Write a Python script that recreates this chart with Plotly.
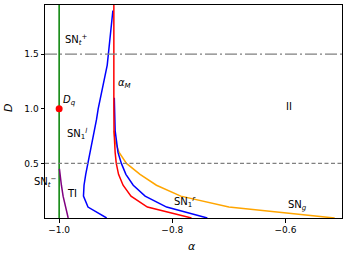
import plotly.graph_objects as go

# ---- data ----
D_steps = [0.0, 0.1, 0.2, 0.3, 0.4, 0.5, 0.6, 0.7, 0.8, 0.9, 1.0,
           1.1, 1.2, 1.3, 1.4, 1.5, 1.6, 1.7, 1.8, 1.9]

# SN1 left branch (blue)
sn1l_alpha = [-0.916, -0.949, -0.957, -0.956, -0.953, -0.949, -0.946, -0.942,
              -0.938, -0.934, -0.931, -0.927, -0.922, -0.918, -0.915, -0.913,
              -0.911, -0.909, -0.907, -0.905]
sn1l_D = D_steps

# alpha_M (red)
am_D = [0.0, 0.1, 0.2, 0.3, 0.4, 0.5, 0.6, 0.7, 0.8, 1.0, 1.5, 2.0]
am_alpha = [-0.766, -0.844, -0.873, -0.887, -0.895, -0.899, -0.901, -0.902,
            -0.903, -0.9033, -0.9033, -0.9033]

# SN1 right branch (blue)
sn1r_D = [0.0, 0.1, 0.2, 0.3, 0.4, 0.5, 0.6, 0.7, 0.8, 0.9, 1.0, 1.1]
sn1r_alpha = [-0.738, -0.810, -0.848, -0.869, -0.882, -0.890, -0.896, -0.899,
              -0.901, -0.9015, -0.902, -0.9025]

# SN_g (orange)
sng_D = [0.0, 0.1, 0.2, 0.3, 0.4, 0.5, 0.6, 0.7, 0.8]
sng_alpha = [-0.513, -0.700, -0.785, -0.828, -0.857, -0.881, -0.894, -0.901, -0.903]

# TI (purple)
ti_D = [0.0, 0.1, 0.2, 0.3, 0.4, 0.45]
ti_alpha = [-0.984, -0.989, -0.993, -0.996, -0.998, -0.9995]

# SN_t (green)
snt_D = [0.0, 2.0]
snt_alpha = [-1.0, -1.0]

# D_q point
dq_alpha = [-1.0]
dq_D = [1.0]

# reference levels
h_dashdot = 1.5
h_dashed = 0.5

x_ticks = [-1.0, -0.8, -0.6]
x_ticktext = ["\u22121.0", "\u22120.8", "\u22120.6"]
y_ticks = [0.5, 1.0, 1.5]
y_ticktext = ["0.5", "1.0", "1.5"]

# (text, x, y, anchor, ref)  ref 'data' or 'paper'
labels = [
    ("SN<sub><i>t</i></sub><sup>+</sup>", -0.994, 1.63, "left", "data"),
    ("<i>α</i><sub><i>M</i></sub>", -0.900, 1.235, "left", "data"),
    ("<i>D</i><sub><i>q</i></sub>", -0.996, 1.08, "left", "data"),
    ("SN<sub>1</sub><sup><i>l</i></sup>", -0.990, 0.768, "left", "data"),
    ("II", -0.593, 1.024, "center", "data"),
    ("SN<sub><i>t</i></sub><sup>\u2212</sup>", -0.045, 0.169, "left", "paper"),
    ("TI", -0.990, 0.228, "left", "data"),
    ("SN<sub>1</sub><sup><i>r</i></sup>", -0.800, 0.149, "left", "data"),
    ("SN<sub><i>g</i></sub>", -0.599, 0.118, "left", "data"),
]

FONT = "DejaVu Sans"
fig = go.Figure()

lw = 1.5
fig.add_trace(go.Scatter(x=snt_alpha, y=snt_D, mode="lines",
                         line=dict(color="green", width=lw)))
fig.add_trace(go.Scatter(x=ti_alpha, y=ti_D, mode="lines",
                         line=dict(color="purple", width=lw)))
fig.add_trace(go.Scatter(x=sng_alpha, y=sng_D, mode="lines",
                         line=dict(color="orange", width=lw)))
fig.add_trace(go.Scatter(x=sn1l_alpha, y=sn1l_D, mode="lines",
                         line=dict(color="blue", width=lw)))
fig.add_trace(go.Scatter(x=sn1r_alpha, y=sn1r_D, mode="lines",
                         line=dict(color="blue", width=lw)))
fig.add_trace(go.Scatter(x=am_alpha, y=am_D, mode="lines",
                         line=dict(color="red", width=lw)))
fig.add_trace(go.Scatter(x=dq_alpha, y=dq_D, mode="markers",
                         marker=dict(color="red", size=7), cliponaxis=False))

fig.add_shape(type="line", xref="paper", x0=0, x1=1, yref="y", y0=h_dashdot, y1=h_dashdot,
              line=dict(color="gray", width=1.2, dash="12px,3px,2px,3px"))
fig.add_shape(type="line", xref="paper", x0=0, x1=1, yref="y", y0=h_dashed, y1=h_dashed,
              line=dict(color="gray", width=1.2, dash="4px,2.5px"))

for txt, x, y, anc, ref in labels:
    refs = dict(xref="paper", yref="paper") if ref == "paper" else dict(xref="x", yref="y")
    fig.add_annotation(x=x, y=y, text=txt, showarrow=False, xanchor=anc, yanchor="middle",
                       font=dict(family=FONT, size=10, color="black"), **refs)

# axis titles as paper annotations
fig.add_annotation(x=0.495, y=-0.136, xref="paper", yref="paper", text="<i>α</i>",
                   showarrow=False, xanchor="center", yanchor="middle",
                   font=dict(family=FONT, size=11, color="black"))
fig.add_annotation(x=-0.125, y=0.516, xref="paper", yref="paper", text="<i>D</i>",
                   showarrow=False, xanchor="center", yanchor="middle", textangle=-90,
                   font=dict(family=FONT, size=11, color="black"))

axis_common = dict(showline=True, linecolor="black", linewidth=1, mirror=True,
                   ticks="outside", ticklen=3.5, tickwidth=0.8, tickcolor="black",
                   showgrid=False, zeroline=False, automargin=False,
                   tickfont=dict(family=FONT, size=9, color="black"))

fig.update_layout(
    width=350, height=260,
    margin=dict(l=45, r=8, t=5, b=42),
    paper_bgcolor="white", plot_bgcolor="white",
    showlegend=False,
    xaxis=dict(range=[-1.025, -0.5], tickvals=x_ticks, ticktext=x_ticktext, **axis_common),
    yaxis=dict(range=[0.0, 1.95], tickvals=y_ticks, ticktext=y_ticktext, **axis_common),
)

fig.write_html("out.html", config={"displayModeBar": False},
               post_script="document.body.style.margin='0';")
